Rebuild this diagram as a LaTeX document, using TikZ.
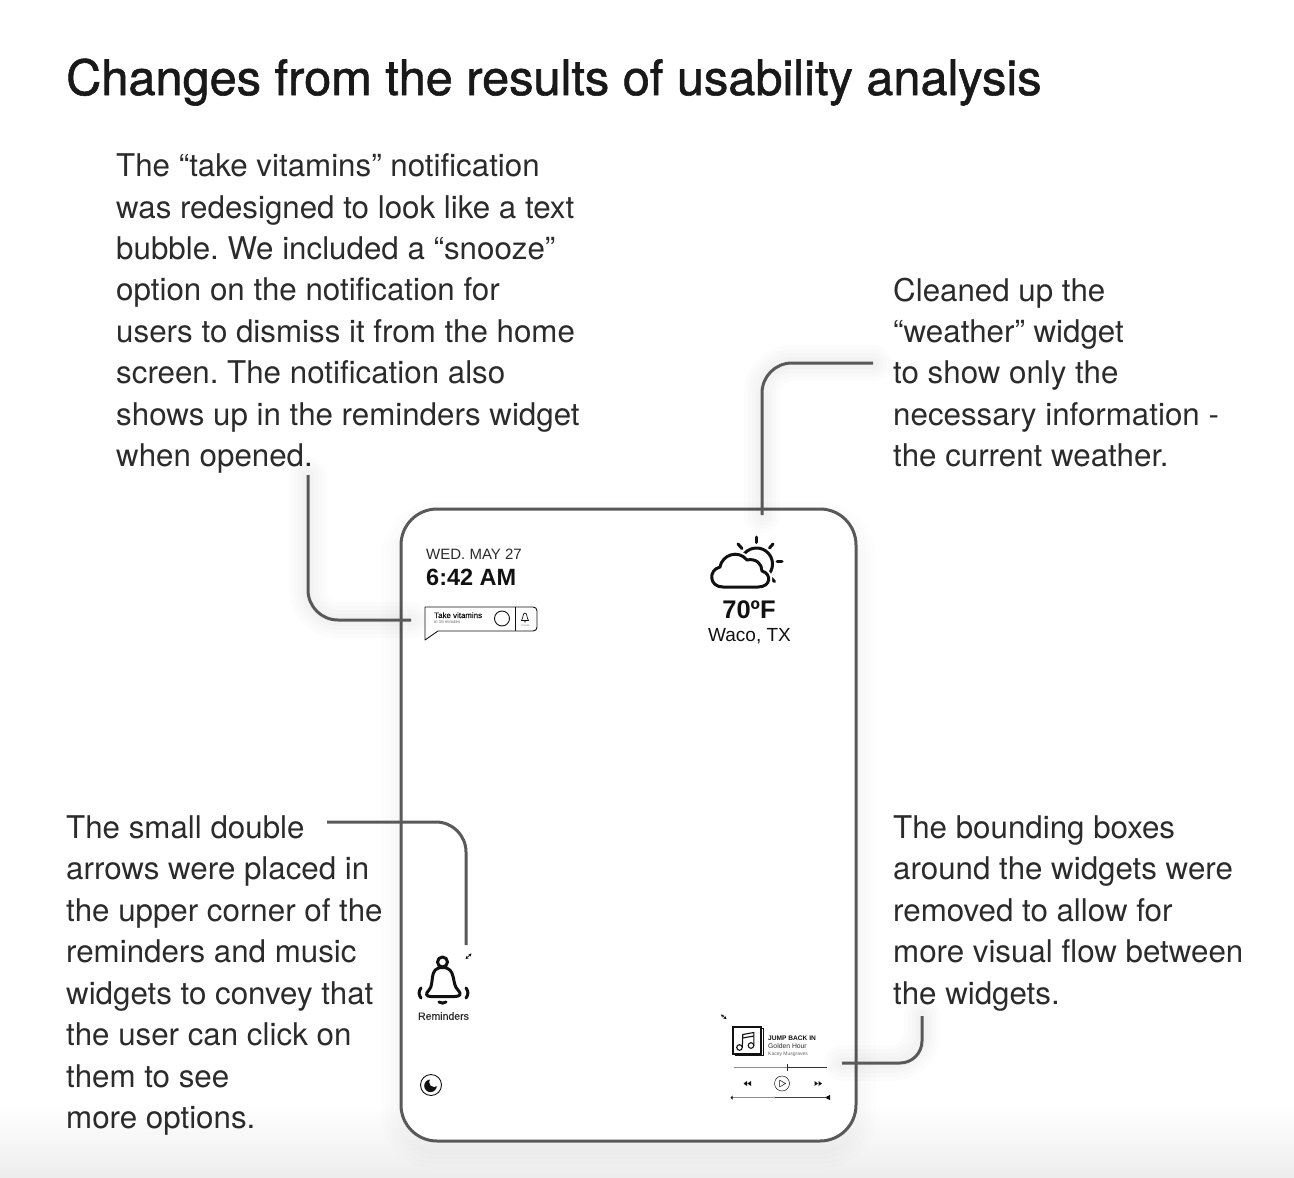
\documentclass[tikz,border=0pt]{standalone}
\usepackage{fontspec}
\setmainfont{TeX Gyre Heros}
\newfontfamily\uifont{Liberation Sans}
\newfontfamily\uimed[FakeBold=0.35]{Liberation Sans}
\newfontfamily\titlefont[FakeBold=1.2]{TeX Gyre Heros}
\usetikzlibrary{calc,arrows.meta}
\definecolor{ink}{HTML}{2B2B2B}
\definecolor{conn}{HTML}{595959}
\definecolor{blk}{HTML}{111111}
\tikzset{
  x=1pt,y=-1pt,
  body/.style={anchor=north west,inner sep=0pt,align=left,text=ink,font=\frenchspacing\fontsize{31.3}{41.45}\selectfont},
  titletext/.style={anchor=base west,inner sep=0pt,text=black!90,font=\titlefont\fontsize{48.7}{50}\selectfont},
  ui/.style={inner sep=0pt,text=blk},
  connector/.style={draw=conn,line width=3pt,rounded corners=30pt},
  icon/.style={draw=blk,line width=3pt,line cap=round,line join=round},
  thin/.style={draw=blk,line width=0.9pt},
  tiny arrow/.style={draw=blk,line width=0.7pt,{Stealth[length=3pt,width=3.2pt]}-{Stealth[length=3pt,width=3.2pt]}},
}
\newcommand{\softshadow}[1]{%
  \foreach \w in {36,28,20,12}{%
    \draw[black,opacity=0.012,line width=\w pt,rounded corners=30pt,line cap=round,yshift=-8pt] #1;}%
}
\begin{document}
\begin{tikzpicture}
\useasboundingbox (0,0) rectangle (1294,1178);
\shade[top color=white,bottom color=black!7] (0,1105) rectangle (1294,1178);

\node[titletext] (title) at (66,95) {Changes from the results of usability analysis};

\node[body] (t1) at (116,153.5) {The “take vitamins” notification\\was redesigned to look like a text\\bubble. We included a “snooze”\\option on the notification for\\users to dismiss it from the home\\screen. The notification also\\shows up in the reminders widget\\when opened.};
\node[body] (t2) at (893,277.5) {Cleaned up the\\“weather” widget\\to show only the\\necessary information -\\the current weather.};
\node[body] (t3) at (66,815.5) {The small double\\arrows were placed in\\the upper corner of the\\reminders and music\\widgets to convey that\\the user can click on\\them to see\\more options.};
\node[body] (t4) at (893,815.5) {The bounding boxes\\around the widgets were\\removed to allow for\\more visual flow between\\the widgets.};

% device frame
\foreach \w in {40,30,20,10}{
  \draw[black,opacity=0.008,line width=\w pt,rounded corners=36pt] (401,522) rectangle (856,1149);}
\node[draw=conn,fill=white,line width=3pt,rounded corners=36pt,minimum width=455pt,minimum height=632pt,inner sep=0pt] (frame) at (628.5,825) {};

% connector end points
\coordinate (c1a) at (308,475); \coordinate (c1b) at (308,620); \coordinate (c1c) at (411,620);
\coordinate (c2a) at (873,363); \coordinate (c2b) at (762,363); \coordinate (c2c) at (762,515);
\coordinate (c3a) at (327,822); \coordinate (c3b) at (466,822); \coordinate (c3c) at (466,945);
\coordinate (c4a) at (922,1016); \coordinate (c4b) at (922,1063); \coordinate (c4c) at (842,1063);
\softshadow{(c1a) -- (c1b) -- (c1c)}
\softshadow{(c2a) -- (c2b) -- (c2c)}
\softshadow{(c4a) -- (c4b) -- (c4c)}
\draw[connector] (c1a) -- (c1b) -- (c1c);
\draw[connector] (c2a) -- (c2b) -- (c2c);
\draw[connector] (c3a) -- (c3b) -- (c3c);
\draw[connector,rounded corners=22pt] (c4a) -- (c4b) -- (c4c);

% date and time
\node[ui,anchor=base west,font=\uifont\fontsize{15}{15}\selectfont,text=ink] (date) at (426,559) {WED. MAY 27};
\node[ui,anchor=base west,font=\uifont\bfseries\fontsize{23.5}{24}\selectfont] (time) at (426,585) {6:42 AM};

% notification bubble
\draw[thin,line join=round] (425,607) -- (533,607) .. controls (535.5,607) and (537,608.5) .. (537,611) -- (537,627) .. controls (537,629.5) and (535.5,631) .. (533,631) -- (438,631) -- (425,640) -- cycle;
\draw[thin] (515.5,607) -- (515.5,631);
\draw[thin] (502,618.5) circle[radius=7.5pt];
\draw[draw=blk,line width=0.7pt,line join=round] (521.5,620.5) .. controls (523.5,618) and (522.5,613) .. (525,613) .. controls (527.5,613) and (526.5,618) .. (528.5,620.5) -- cycle;
\fill[blk] (525,621.8) circle[radius=0.8pt];
\node[ui,anchor=base west,font=\uimed\fontsize{7.9}{8}\selectfont] (nt) at (434,618) {Take vitamins};
\node[ui,anchor=base west,font=\uifont\fontsize{4.4}{5}\selectfont,text=black!60] (ns) at (434,623.5) {in 15 minutes};
\node[ui,font=\uifont\fontsize{2.6}{3}\selectfont,text=black!55] (nz) at (525.5,625.5) {snooze};

% weather icon
\draw[icon] (756,537) -- (756,542.5);
\draw[icon] (738,544) -- (742,548.5);
\draw[icon] (773,544) -- (769.5,548);
\draw[icon] (777,561.5) -- (782,561.5);
\draw[icon] (770,577) -- (774.5,581.5);
\draw[icon] (756.5,564) circle[radius=16pt];
\draw[white,line width=7pt,fill=white,line join=round] (723,587) .. controls (709,587) and (708,570) .. (720,567) .. controls (722,555) and (738,549) .. (747,560) .. controls (756,558) and (762,564) .. (762,571) .. controls (772,574) and (771,587) .. (758,587) -- cycle;
\draw[icon,fill=white] (723,587) .. controls (709,587) and (708,570) .. (720,567) .. controls (722,555) and (738,549) .. (747,560) .. controls (756,558) and (762,564) .. (762,571) .. controls (772,574) and (771,587) .. (758,587) -- cycle;
\node[ui,font=\uifont\bfseries\fontsize{25.5}{26}\selectfont] (temp) at (749,610) {70ºF};
\node[ui,font=\uifont\fontsize{19}{20}\selectfont] (city) at (749.5,636) {Waco, TX};

% bell
\draw[icon] (442.5,962) circle[radius=5pt];
\draw[icon] (429,990) .. controls (435,984) and (428,967.5) .. (442.5,967.5) .. controls (457,967.5) and (451,984) .. (458,990) .. controls (462,994) and (460,996.5) .. (455,996.5) -- (431,996.5) .. controls (426,996.5) and (425,994) .. (429,990) -- cycle;
\draw[icon] (421,988) .. controls (418.5,991) and (418.5,995) .. (421,998);
\draw[icon] (466,988) .. controls (468.5,991) and (468.5,995) .. (466,998);
\draw[icon] (439,1002) .. controls (441,1003.5) and (444,1003.5) .. (446,1002);
\node[ui,font=\uimed\fontsize{10.5}{11}\selectfont,text=ink] (rem) at (443.5,1016) {Reminders};

% small double arrows
\draw[tiny arrow] (465.5,959) -- (471.5,953.5);
\draw[tiny arrow] (721,1014.5) -- (726.5,1019);

% moon
\draw[thin] (431,1085) circle[radius=10.5pt];
\fill[blk] (430.5,1085.8) circle[radius=6.3pt];
\fill[white] (434.2,1082) circle[radius=5pt];

% music widget
\draw[draw=blk,line width=1pt] (735.5,1029) -- (735.5,1055.5) -- (763,1055.5) -- (763,1028) -- (761,1028);
\draw[draw=blk,line width=1.5pt,fill=white] (733,1027) rectangle (761,1054);
\draw[draw=blk,line width=1.1pt] (739.5,1047.5) circle[radius=2.8pt];
\draw[draw=blk,line width=1.1pt] (751,1045.5) circle[radius=2.8pt];
\draw[draw=blk,line width=1.1pt] (742.3,1047.5) -- (742.8,1034.5) -- (753.8,1032.5) -- (753.8,1045.5);
\draw[draw=blk,line width=1.1pt] (742.7,1038) -- (753.8,1036);
\node[ui,anchor=base west,font=\uifont\bfseries\fontsize{6.6}{7}\selectfont] (m1) at (768,1040.5) {JUMP BACK IN};
\node[ui,anchor=base west,font=\uifont\fontsize{6.8}{7}\selectfont,text=ink] (m2) at (768,1048.5) {Golden Hour};
\node[ui,anchor=base west,font=\uifont\fontsize{5}{6}\selectfont,text=black!60] (m3) at (768,1055.5) {Kacey Musgraves};
\draw[black!45,line width=0.7pt] (734,1067.5) -- (787,1067.5);
\draw[black!80,line width=0.7pt] (787,1067.5) -- (827,1067.5);
\draw[black!85,line width=0.7pt] (787,1064) -- (787,1071);
\fill[blk] (747,1081) -- (743.5,1083.5) -- (747,1086) -- cycle (751,1081) -- (747.5,1083.5) -- (751,1086) -- cycle;
\fill[blk] (814.5,1081) -- (818,1083.5) -- (814.5,1086) -- cycle (818.5,1081) -- (822,1083.5) -- (818.5,1086) -- cycle;
\draw[draw=blk,line width=0.5pt] (782,1083.5) circle[radius=7.5pt];
\draw[draw=blk,line width=0.5pt,line join=round] (779.5,1080) -- (785.5,1083.5) -- (779.5,1087) -- cycle;
\draw[black!45,line width=0.7pt] (732,1097.5) -- (774,1097.5);
\draw[black!75,line width=0.7pt] (774,1097.5) -- (828,1097.5);
\fill[black!35] (774,1097.5) circle[radius=1.2pt];
\fill[blk] (730.5,1097.5) -- (732.5,1095.5) -- (732.5,1099.5) -- cycle;
\fill[blk] (826.5,1096) rectangle (828,1099) (828,1096) -- (830,1094.8) -- (830,1100.2) -- (828,1099) -- cycle;
\end{tikzpicture}
\end{document}
